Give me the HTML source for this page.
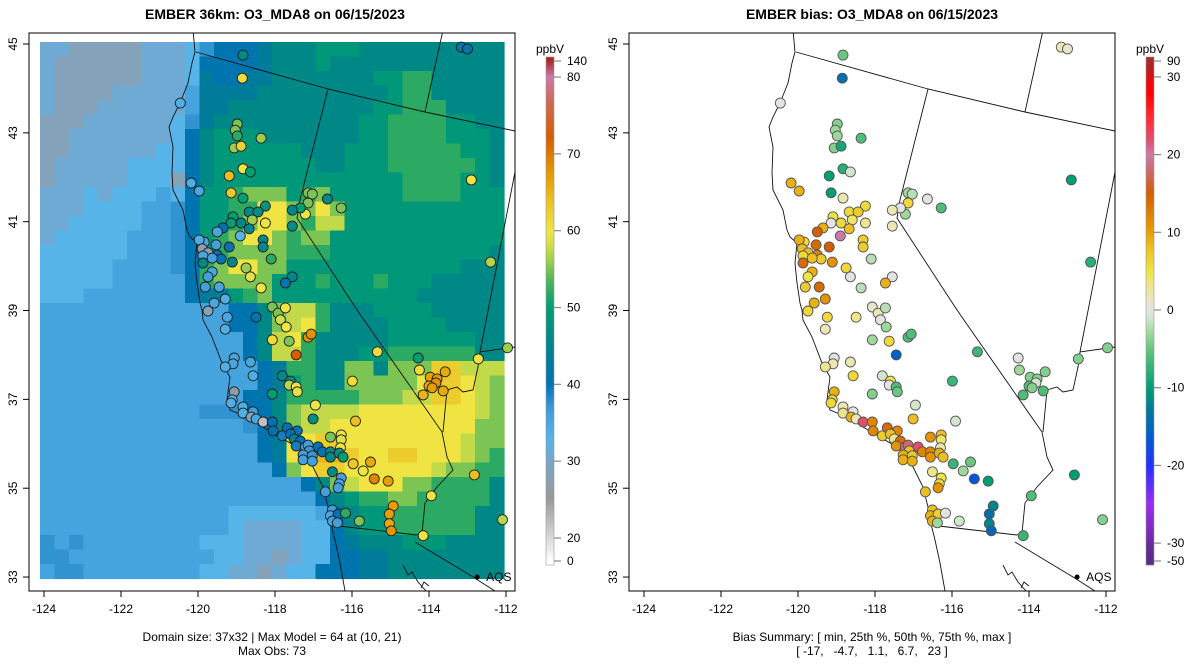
<!DOCTYPE html>
<html><head><meta charset="utf-8"><title>EMBER O3_MDA8</title>
<style>
html,body{margin:0;padding:0;background:#fff;}
svg{display:block;font-family:"Liberation Sans",Arial,sans-serif;}
</style></head>
<body>
<svg id="chart" width="1200" height="672" viewBox="0 0 1200 672" xmlns="http://www.w3.org/2000/svg">
<defs>
<clipPath id="clipL"><rect x="29" y="33" width="486" height="558"/></clipPath>
<clipPath id="clipR"><rect x="629" y="33" width="486" height="558"/></clipPath>
</defs>
<rect x="0" y="0" width="1200" height="672" fill="#fff"/>
<text x="275" y="19" text-anchor="middle" font-size="14" font-weight="bold">EMBER 36km: O3_MDA8 on 06/15/2023</text>
<text x="872" y="19" text-anchor="middle" font-size="14" font-weight="bold">EMBER bias: O3_MDA8 on 06/15/2023</text>
<g id="leftPanel"></g>
<g id="rightPanel"></g>
<text x="272" y="641" text-anchor="middle" font-size="12">Domain size: 37x32 | Max Model = 64 at (10, 21)</text>
<text x="272" y="655" text-anchor="middle" font-size="12">Max Obs: 73</text>
<text x="872" y="641" text-anchor="middle" font-size="12">Bias Summary: [ min, 25th %, 50th %, 75th %, max ]</text>
<text x="872" y="655" text-anchor="middle" font-size="12" xml:space="preserve">[ -17,   -4.7,   1.1,   6.7,   23 ]</text>
</svg>
<script>
// ---------- data ----------
const gridRows = [
"bbaaaaabbbcefffghhhiiihhhhhhhhhh",
"baaaaaabbbcffffghhhihhhhhhhhhhhh",
"baaaaaabbbcgffgghhhhhhhiijjhhhhh",
"baaaabbbbbdgggghhhhhhhhhijjhhhhh",
"baaabbbbbbdgghhhhhhhhhhiijjjhhhh",
"aaabbbbbbceghhhhhhhhhhiijjjjiihh",
"aabbbbbbbcfhiiihhhhhhhiijjjjiiih",
"aabbbbbbccfhiiiiiihhhiiijjjjjiih",
"abbbbbccccfhiiiiiiihhiiijjjjjjih",
"abbbbbcccafhiiiiiiiiiiiiijjjjiih",
"bbbcbcccdcfiijkkkijkiiiiijjjjiii",
"bbbccccddefiijjmmkkmkiiiiiiiiiii",
"bbcccccddefiijkmmkjlliiiiiiiiiii",
"bcccccdddefijkmmkjkkiiiiiiiiiiii",
"ccccccdddefijkkkkjjjiiiiiiiiiiih",
"cccccddddefjkmmkkiiiiiiiiiiiihhh",
"cccccdddddfjkkkkiiijiiijiiihhhhh",
"cccdddddddfggijkiiiiiiiiiihhhhhh",
"dddddddddddddffhklljhhhiiiihhhhh",
"dddddddddddddffhklmjhhhhiiiihhhh",
"ddddddddddddddfhlmjhhhhhiiiiiihh",
"ddddddddddddddfhlljhhhiijjjjjjhh",
"dddddddddddddddfgjjhhkkhkkknnlll",
"dddddddddddddddfgijhhkkkkkmnnmlk",
"ddddddddddddddffhjjjjjkkkllnnmlk",
"dddddddddddeeeffhkllllmmmmmmmmlk",
"ddddddddddddddefhkllmmmmmmmmmmkk",
"dddddddddddddddfgmmnnmmmmmmmmlkk",
"dddddddddddddddfgmnoonmmnnmmmlkj",
"ddddddddddddddddfkmnnmmmmmmlkkjj",
"ddddddddddddddddddfhklmmmkkjjjjh",
"dddddddddddddddddddfhijjkkjjjjjh",
"dddddddddddddccccccdfhiijjjjjjhh",
"dddddddddddddcbbbbccfhiijjjjjjhh",
"ededdddddddcccbbbbccfghhhiiihhhh",
"eeddddddddddccbbabccffgghhhhhhhh",
"deeddddddddccbbabccfffgghhhhhhhh"
];
const codeKeys = ["a","b","c","d","e","f","g","h","i","j","k","l","m","n","o"];
const codeValues = [28.5,31,33,35.5,37.5,40.5,43,46,49,52,55,57.5,60,62.5,65];

const siteLon = [-118.83,-118.85,-120.46,-118.98,-119.03,-118.98,-118.36,-119.06,-118.88,-120.18,-119.97,-118.83,-118.64,-119.19,-119.14,-118.83,-118.25,-118.67,-118.44,-119.09,-118.59,-118.25,-118.88,-119.14,-119.35,-118.67,-119.50,-118.90,-118.31,-118.31,-119.19,-119.53,-119.84,-119.97,-119.89,-119.74,-119.50,-119.40,-119.87,-119.63,-119.11,-118.75,-118.64,-118.10,-119.87,-119.63,-119.74,-119.81,-119.45,-119.29,-119.58,-118.36,-117.55,-117.73,-117.14,-117.03,-117.14,-117.21,-117.34,-117.55,-117.55,-116.64,-116.28,-112.90,-112.40,-113.16,-113.00,-118.07,-117.92,-117.73,-117.86,-117.71,-119.74,-119.24,-118.49,-119.29,
-118.07,-117.63,-117.14,-117.06,-117.45,-119.06,-119.09,-119.29,-118.64,-118.57,-117.81,-117.60,-117.63,-117.45,-117.42,-118.07,-119.06,-119.11,-119.14,-118.83,-118.83,-118.57,-118.62,-118.49,-118.31,-118.07,-118.05,-117.81,-117.68,-117.42,-117.60,-117.50,-117.34,-117.45,-117.21,-117.14,-117.11,-116.88,-116.77,-117.27,-117.27,-117.03,-117.03,-116.56,-116.28,-116.28,-116.30,-116.56,-116.56,-116.33,-116.23,-117.01,-116.95,-115.99,-115.91,-115.34,-115.97,-115.52,-115.71,-115.42,-115.06,-116.51,-116.28,-116.33,-116.36,-116.69,-116.51,-116.56,-116.36,-116.17,-116.51,-116.38,-115.81,-114.93,-115.03,-115.03,-114.98,-114.15,-113.94,-114.28,-114.25,-113.97,-113.79,-113.82,-114.00,-113.92,-113.63,-114.15,-113.58,-112.72,-112.82,-112.09,-111.96];
const siteLat = [44.75,44.23,43.67,43.20,43.06,42.93,42.88,42.66,42.70,41.87,41.69,42.19,42.12,42.03,41.65,41.53,41.35,41.22,41.22,41.11,41.04,40.97,40.97,40.97,40.86,40.84,40.77,40.68,40.59,40.43,40.43,40.48,40.54,40.59,40.39,40.30,40.25,40.16,40.23,40.18,40.09,39.96,39.76,40.16,40.07,39.87,39.76,39.53,39.53,39.26,39.17,39.51,39.76,39.62,41.65,41.62,41.42,41.17,41.31,41.26,40.90,41.51,41.31,41.94,40.09,44.93,44.89,39.08,38.94,39.06,38.79,38.63,38.99,38.85,38.85,38.58,
38.34,38.31,38.40,38.47,38.00,37.93,37.80,37.73,37.84,37.53,37.53,37.41,37.32,37.28,37.17,37.12,37.17,36.99,36.92,36.83,36.69,36.72,36.60,36.56,36.49,36.49,36.29,36.18,36.36,36.29,36.22,36.11,36.06,35.95,35.93,35.97,35.84,35.93,35.82,35.75,35.64,35.73,35.61,36.15,36.20,36.09,35.91,35.82,35.70,35.79,35.70,36.56,36.87,37.41,36.51,38.07,35.55,35.59,35.39,35.21,35.16,35.37,35.23,35.10,35.01,34.92,34.51,34.38,34.42,34.44,34.26,34.22,34.26,34.60,34.42,34.20,34.04,33.93,34.83,37.93,37.66,37.50,37.46,37.37,37.30,37.26,37.19,37.10,37.62,37.91,35.30,34.29,38.16];
const siteObs = [46,61,34,55,55,52,56,56,62,34,35,60,50,64,63,50,48,46,47,50,56,60,46,50,40,45,35,33,46,45,40,36,35,34,27,28,40,40,35,36,45,56,59,52,46,35,36,36,35,34,35,60,45,41,55,55,55,60,50,46,47,46,55,60,57,41,41,55,55,60,58,60,28,35,41,34,
61,55,68,68,72,35,35,34,35,34,46,47,57,60,59,50,27,33,34,34,34,36,28,35,22,40,40,39,40,40,40,45,40,39,36,36,37,40,40,36,36,37,36,55,60,59,60,46,46,47,50,47,60,61,64,61,63,66,60,69,67,46,36,35,36,36,36,35,40,52,36,36,55,67,67,66,68,60,60,50,61,67,67,68,66,67,66,65,66,60,64,57,56];
const siteBias = [-5,-14,0,-4,-3,-3,-6,-4,-9,9,9,-8,-1,-10,-10,2,6,6,7,5,4,3,6,0,9,8,15,20,7,7,15,14,6,9,8,8,12,7,6,8,11,6,0,-2,14,9,5,7,14,11,9,-2,0,9,-3,-2,6,-3,0,2,2,0,-6,-10,-8,2,1,1,2,-2,0,-3,6,6,3,2,
-3,6,-6,-6,-16,0,2,3,2,6,-1,5,0,-6,-5,-4,9,6,6,2,3,0,9,2,22,12,12,7,14,12,8,3,14,11,18,18,8,22,12,9,9,7,9,11,8,4,2,12,11,9,8,8,-1,-7,-1,-7,-7,-5,-3,-17,-10,3,5,6,11,8,8,9,7,0,9,-3,-1,-12,-14,-12,-15,-7,-6,0,-3,-4,-4,-1,-6,-4,-6,-6,-4,-4,-10,-4,-4];

const xTickLabels = ["-124","-122","-120","-118","-116","-114","-112"];
const yTickLabels = ["45","43","41","39","37","35","33"];
const obsBarLabels = ["140","80","70","60","50","40","30","20","0"];
const obsBarValues = [140,80,70,60,50,40,30,20,0];
const biasBarLabels = ["90","30","20","10","0","-10","-20","-30","-50"];
const biasBarValues = [90,30,20,10,0,-10,-20,-30,-50];
const aqsLon = -112.75, aqsLat = 33.0;

// ---------- colour maps ----------
const obsStops = [[0,"#ffffff"],[20,"#dadada"],[25,"#9a9a9a"],[30,"#7aa5c8"],[33,"#56b4e9"],[37,"#3b9ad5"],[40,"#0072b2"],[44,"#007f92"],[47,"#008d82"],[50,"#009e73"],[52,"#2ca962"],[54,"#5cba58"],[56,"#9ccd4e"],[58,"#cfde47"],[60,"#f0e442"],[64,"#ebbf22"],[67,"#e69f00"],[72,"#d55e00"],[77,"#cd6a5a"],[80,"#cc79a7"],[100,"#c06080"],[140,"#a52a2a"]];
const biasStops = [[-50,"#5b2a86"],[-30,"#6b2ca3"],[-25,"#9b2cf0"],[-20,"#2030ff"],[-16,"#0060c8"],[-13,"#00789a"],[-10,"#009e73"],[-6,"#4fbd78"],[-3,"#9dd89a"],[-1,"#d2e6cf"],[0,"#e3e3e3"],[2,"#ebe6b2"],[5,"#f0e442"],[8,"#ecc023"],[10,"#e69f00"],[15,"#d55e00"],[18,"#cc6a70"],[20,"#cc79a7"],[22,"#e34c6c"],[25,"#ff2a2a"],[28,"#ff0000"],[32,"#cc1515"],[90,"#a52a2a"]];
function hex2rgb(h){return [parseInt(h.substr(1,2),16),parseInt(h.substr(3,2),16),parseInt(h.substr(5,2),16)];}
function interp(stops,v){
  if(v<=stops[0][0])return stops[0][1];
  for(let i=1;i<stops.length;i++){
    if(v<=stops[i][0]){
      const t=(v-stops[i-1][0])/(stops[i][0]-stops[i-1][0]);
      const a=hex2rgb(stops[i-1][1]),b=hex2rgb(stops[i][1]);
      return "rgb("+a.map((x,k)=>Math.round(x+(b[k]-x)*t)).join(",")+")";
    }
  }
  return stops[stops.length-1][1];
}

// ---------- axes ----------
function xScale(lon){return 44+(lon+124)*38.5;}
function yScale(lat){return 44+(45-lat)*44.42;}
const gridX0=40, gridY0=42, cell=14.5;
function gridX(c){return gridX0+c*cell;}
function gridY(r){return gridY0+r*cell;}
function obsBarY(v){
  if(v<=20)return 561-(v/20)*23;
  if(v<=80)return 538-(v-20)*7.683;
  return 77-(v-80)/60*16;
}
function biasBarY(v){
  if(v>30)return 77-(v-30)/60*16;
  if(v<-30)return 541+(-30-v)/20*20;
  return 310-v*7.77;
}

const NS="http://www.w3.org/2000/svg";
function mk(tag,attrs,parent){const e=document.createElementNS(NS,tag);for(const k in attrs)e.setAttribute(k,attrs[k]);parent.appendChild(e);return e;}

const borderPaths = [
 "M193,30 L195,52 L192,63 L188,83 L180,103 L173,117 L169,127 L173,147 L172,173 L173,190 L183,210 L187,230 L190,237 L197,243 L195,263 L197,283 L200,303 L202,310 L203,320 L212,337 L222,363 L230,377 L227,400 L230,410 L247,417 L263,427 L273,433 L297,447 L307,457 L313,467 L323,487 L328,507 L330,520 L335,540 L340,563 L345,591",
 "M196,52 L328,89 L425,112 L515,131",
 "M443,30 L425,112",
 "M328,89 L300,200 L297,218 L357,310 L442,432 L447,457 L453,470 L437,487 L425,503 L422,533 L417,535",
 "M330,525 L417,535",
 "M415,542 L473,577 L495,591",
 "M515,172 L480,352 L515,347",
 "M480,352 L478,367 L473,390 L463,392 L457,387 L447,390 L443,432",
 "M403,565 L408,575 L412,572 L418,582 L426,591",
 "M421,588 L424,582 L429,586"
];

function buildPanel(g, off, isBias){
  const clip = mk("g",{"clip-path": isBias?"url(#clipR)":"url(#clipL)"},g);
  if(!isBias){
    const raster = mk("g",{},clip);
    
    
    for(let r=0;r<gridRows.length;r++){
      for(let c=0;c<gridRows[r].length;c++){
        const v=codeValues[codeKeys.indexOf(gridRows[r][c])];
        const rc=mk("rect",{x:gridX(c).toFixed(2),y:gridY(r).toFixed(2),width:cell+0.6,height:cell+0.6,fill:interp(obsStops,v)},raster);
        
        
      }
    }
  }
  const bg = mk("g",{transform:"translate("+off+",0)",fill:"none",stroke:"#111","stroke-width":"0.9"},clip);
  
  
  borderPaths.forEach(d=>{mk("path",{d:d},bg);});
  const sg = mk("g",{},clip);
  
  
  for(let i=0;i<siteLon.length;i++){
    const col = isBias? interp(biasStops,siteBias[i]) : interp(obsStops,siteObs[i]);
    const c=mk("circle",{cx:(xScale(siteLon[i])+off).toFixed(1),cy:yScale(siteLat[i]).toFixed(1),r:"5",fill:col,stroke:isBias?"#555":"#222","stroke-width":"0.9"},sg);
    
    
  }
  const ad=mk("circle",{cx:xScale(aqsLon)+off,cy:yScale(aqsLat),r:"2.5",fill:"#000"},g);
  
  
  const at=mk("text",{x:xScale(aqsLon)+off+9,y:yScale(aqsLat)+4,"font-size":"12"},g);
  at.textContent="AQS";
  
  
  const box=mk("rect",{x:29+off,y:33,width:486,height:558,fill:"none",stroke:"#000","stroke-width":"1"},g);
  
  
  const xlons=[-124,-122,-120,-118,-116,-114,-112];
  xlons.forEach((lon,i)=>{
    const x=xScale(lon)+off;
    const t=mk("line",{x1:x,x2:x,y1:591,y2:597,stroke:"#000"},g);
    
    
    const l=mk("text",{x:x,y:613,"text-anchor":"middle","font-size":"12"},g);
    l.textContent=xTickLabels[i];
    
    
  });
  const ylats=[45,43,41,39,37,35,33];
  ylats.forEach((lat,i)=>{
    const y=yScale(lat);
    const t=mk("line",{x1:23+off,x2:29+off,y1:y,y2:y,stroke:"#000"},g);
    
    
    const l=mk("text",{x:0,y:0,"text-anchor":"middle","font-size":"12",transform:"translate("+(17+off)+","+y+") rotate(-90)"},g);
    l.textContent=yTickLabels[i];
    
    
  });
  const bx = isBias?1146:546;
  const cb=mk("g",{},g);
  
  
  const yf = isBias?biasBarY:obsBarY;
  const vals = isBias?biasBarValues:obsBarValues;
  const labs = isBias?biasBarLabels:obsBarLabels;
  const stops = isBias?biasStops:obsStops;
  for(let y=57;y<565;y+=2){
    let lo=isBias?-50:0, hi=isBias?90:140;
    for(let k=0;k<30;k++){const m=(lo+hi)/2; if(yf(m)>y+1)lo=m; else hi=m;}
    const s=mk("rect",{x:bx,y:y,width:8,height:2.3,fill:interp(stops,(lo+hi)/2)},cb);
    
    
  }
  mk("rect",{x:bx,y:57,width:8,height:508,fill:"none",stroke:"#999","stroke-width":"0.6"},cb);
  vals.forEach((v,i)=>{
    const y=yf(v);
    const t=mk("line",{x1:bx+8,x2:bx+15,y1:y,y2:y,stroke:"#888","stroke-width":"1.2"},cb);
    
    
    const l=mk("text",{x:bx+21,y:y+4,"font-size":"12"},cb);
    l.textContent=labs[i];
    
    
  });
  const u=mk("text",{x:bx+4,y:53,"text-anchor":"middle","font-size":"12"},cb);
  u.textContent="ppbV";
  
  
}
buildPanel(document.getElementById("leftPanel"),0,false);
buildPanel(document.getElementById("rightPanel"),600,true);
</script>
</body></html>
